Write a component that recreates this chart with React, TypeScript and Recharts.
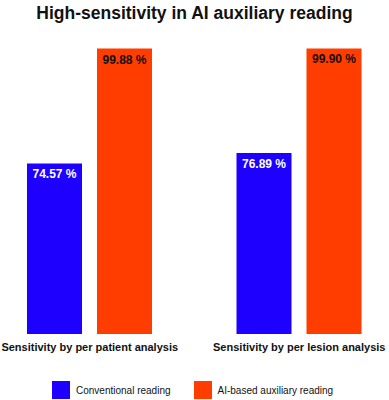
import { Bar, BarChart, LabelList, XAxis, YAxis } from 'recharts';

const categories = ['Sensitivity by per patient analysis', 'Sensitivity by per lesion analysis'];
const conventional = [74.57, 76.89];
const aiBased = [99.88, 99.9];
const seriesNames = ['Conventional reading', 'AI-based auxiliary reading'];
const seriesColors = ['#1E00FF', '#FF3D00'];

const data = categories.map((name, i) => ({
    name,
    conventional: conventional[i],
    aiBased: aiBased[i],
}));

const font = '"Liberation Sans", Arial, sans-serif';

const formatPct = (value: number): string => `${value.toFixed(2)} %`;

const makeLabel = (color: string) => (props: any) => {
    const { x, y, width, value } = props;
    return (
        <text
            x={Number(x) + Number(width) / 2}
            y={Number(y) + 15}
            textAnchor="middle"
            fill={color}
            fontSize={12}
            fontWeight="bold"
            fontFamily={font}
        >
            {formatPct(Number(value))}
        </text>
    );
};

export default function App() {
    return (
        <div
            style={{
                position: 'absolute',
                left: 0,
                top: 0,
                width: 389,
                height: 400,
                overflow: 'hidden',
                background: '#fff',
                fontFamily: font,
            }}
        >
            <div
                style={{
                    position: 'absolute',
                    top: 3,
                    width: '100%',
                    textAlign: 'center',
                    fontSize: 17.5,
                    fontWeight: 'bold',
                    lineHeight: '20px',
                    color: '#111',
                }}
            >
                High-sensitivity in AI auxiliary reading
            </div>
            <div style={{ position: 'absolute', left: -15, top: 0 }}>
                <BarChart
                    width={419}
                    height={400}
                    data={data}
                    margin={{ top: 48, right: 0, bottom: 36, left: 0 }}
                    barSize={55}
                    barGap={15}
                >
                    <XAxis
                        dataKey="name"
                        height={30}
                        tickLine={false}
                        axisLine={false}
                        tickMargin={3}
                        interval={0}
                        tick={{ fontSize: 11, fontWeight: 'bold', fill: '#111', fontFamily: font }}
                    />
                    <YAxis hide domain={[37, 100]} />
                    <Bar dataKey="conventional" fill={seriesColors[0]} isAnimationActive={false}>
                        <LabelList dataKey="conventional" content={makeLabel('#fff')} />
                    </Bar>
                    <Bar dataKey="aiBased" fill={seriesColors[1]} isAnimationActive={false}>
                        <LabelList dataKey="aiBased" content={makeLabel('#111')} />
                    </Bar>
                </BarChart>
            </div>
            <div
                style={{
                    position: 'absolute',
                    left: 52,
                    top: 381,
                    display: 'flex',
                    alignItems: 'center',
                    gap: 23,
                    fontSize: 10,
                    color: '#111',
                }}
            >
                {seriesNames.map((name, i) => (
                    <div key={name} style={{ display: 'flex', alignItems: 'center', gap: 6 }}>
                        <span
                            style={{
                                width: 18,
                                height: 18,
                                background: seriesColors[i],
                                display: 'inline-block',
                            }}
                        />
                        <span>{name}</span>
                    </div>
                ))}
            </div>
        </div>
    );
}
